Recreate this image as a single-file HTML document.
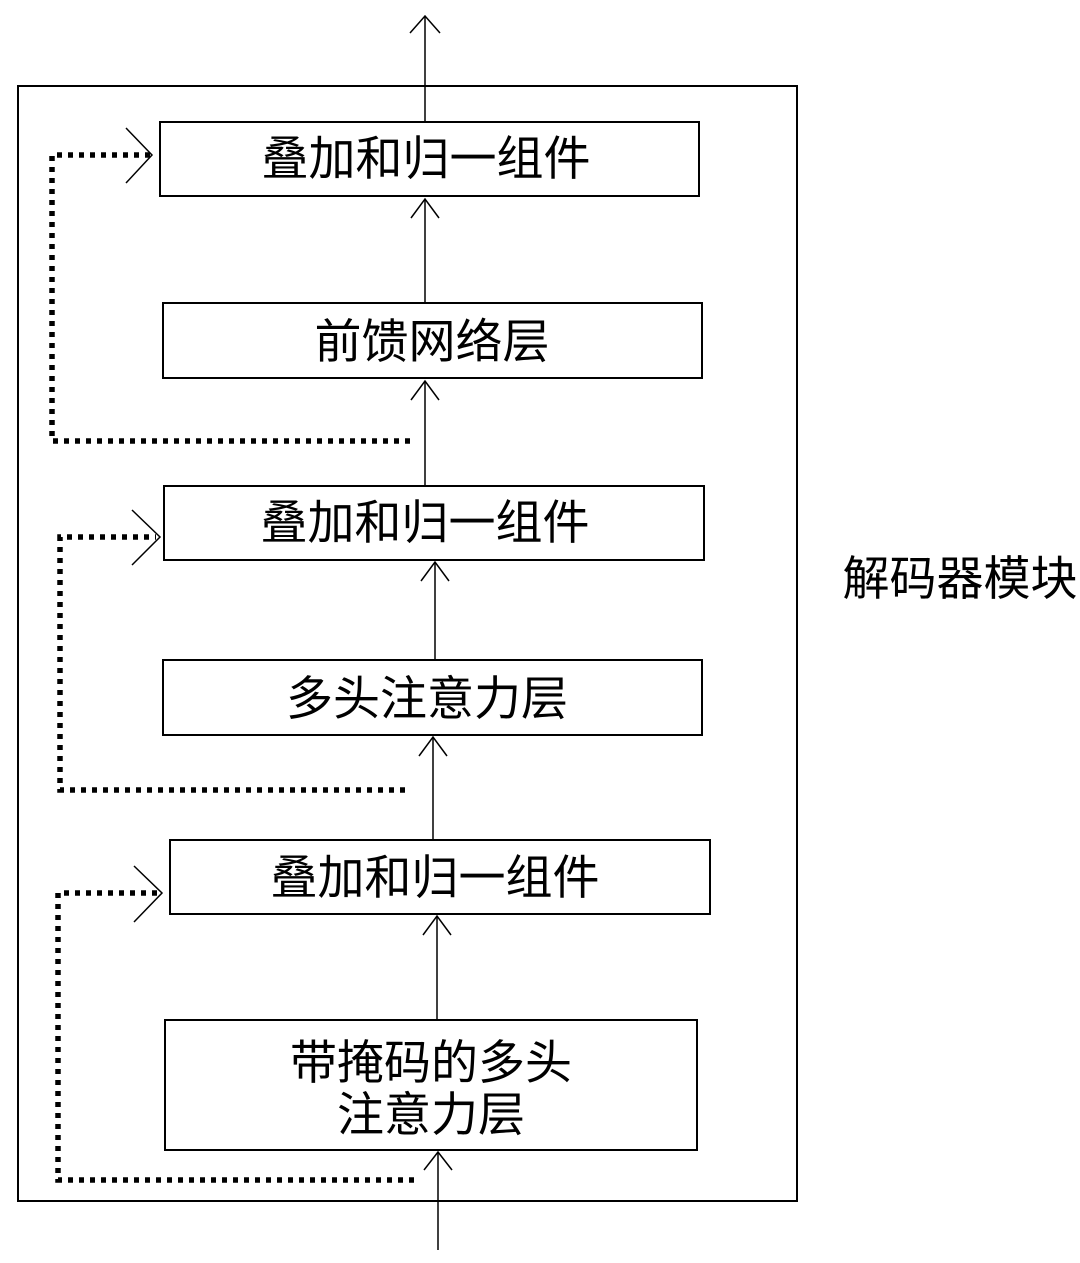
<!DOCTYPE html>
<html><head><meta charset="utf-8"><style>
html,body{margin:0;padding:0;background:#fff;}
svg{display:block;}
text{font-family:"Liberation Sans","Noto Sans CJK SC",sans-serif;fill:#000;}
</style></head><body>
<svg width="1080" height="1263" viewBox="0 0 1080 1263" xmlns="http://www.w3.org/2000/svg">
<g fill="none" stroke="#000" stroke-width="2">
<rect x="18" y="86" width="779" height="1115"/>
<rect x="160" y="122" width="539" height="74"/>
<rect x="163" y="303" width="539" height="75"/>
<rect x="164" y="486" width="540" height="74"/>
<rect x="163" y="660" width="539" height="75"/>
<rect x="170" y="840" width="540" height="74"/>
<rect x="165" y="1020" width="532" height="130"/>
</g>
<g fill="none" stroke="#000" stroke-width="1.5">
<line x1="425" y1="122" x2="425" y2="16"/><polyline points="410,33 425,16 440,33"/>
<line x1="425" y1="303" x2="425" y2="199"/><polyline points="411,218 425,199 439,218"/>
<line x1="425" y1="486" x2="425" y2="381"/><polyline points="411,400 425,381 439,400"/>
<line x1="435" y1="660" x2="435" y2="562"/><polyline points="421,581 435,562 449,581"/>
<line x1="433" y1="840" x2="433" y2="737"/><polyline points="419,756 433,737 447,756"/>
<line x1="437" y1="1020" x2="437" y2="916"/><polyline points="423,935 437,916 451,935"/>
<line x1="438" y1="1250" x2="438" y2="1152"/><polyline points="424,1170 438,1152 452,1170"/>
<polyline points="126,128 152,155 126,183"/>
<polyline points="132,510 160,537 132,565"/>
<polyline points="134,866 162,893 134,922"/>
</g>
<g fill="none" stroke="#000" stroke-width="5.5" stroke-dasharray="5 6">
<polyline points="410,441 52,441 52,155 150,155"/>
<polyline points="405,790 60,790 60,537 156,537"/>
<polyline points="414,1180 58,1180 58,893 158,893"/>
</g>
<g font-size="47" text-anchor="middle">
<text x="426" y="175">叠加和归一组件</text>
<text x="432" y="358">前馈网络层</text>
<text x="425" y="539">叠加和归一组件</text>
<text x="427" y="715">多头注意力层</text>
<text x="435" y="894">叠加和归一组件</text>
<text x="431" y="1079">带掩码的多头</text>
<text x="431" y="1131">注意力层</text>
<text x="960" y="595">解码器模块</text>
</g>
</svg>
</body></html>
